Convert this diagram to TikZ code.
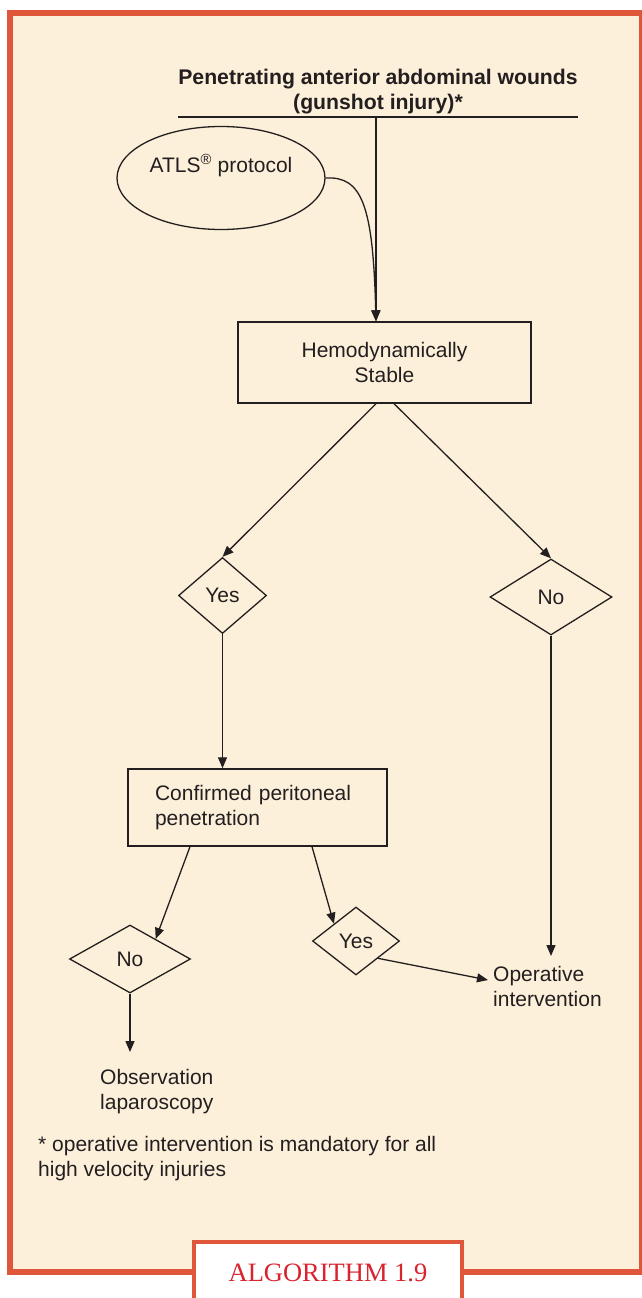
\documentclass[tikz,border=0pt]{standalone}
\usepackage{fontspec}
\setmainfont{Liberation Sans}
\newfontfamily\tagfont{Liberation Serif}
\usetikzlibrary{shapes.geometric,arrows.meta,calc}
\definecolor{framered}{HTML}{E0563A}
\definecolor{paper}{HTML}{FDF0DA}
\definecolor{ink}{HTML}{231F20}
\definecolor{tagred}{HTML}{D9232D}
\begin{document}
\begin{tikzpicture}[
  x=1pt, y=-1pt,
  font=\fontsize{21}{25}\selectfont,
  text=ink,
  stepbox/.style={draw=ink, line width=1.4pt, inner sep=0pt},
  choice/.style={draw=ink, diamond, line width=1.3pt, inner sep=0pt},
  plain/.style={align=left, anchor=north west, inner sep=0pt},
  flow/.style={draw=ink, line width=1.3pt, -{Triangle[length=11pt,width=9pt]}}
]
% page, panel and frame
\fill[white] (0,0) rectangle (642,1298);
\useasboundingbox (0,0) rectangle (642,1298);
\fill[paper] (10,13) rectangle (642,1271.5);
\draw[framered, line width=6pt] (10,13) rectangle (642,1271.5);

% caption tab
\node[draw=framered, fill=white, line width=4pt, anchor=north, outer sep=0pt,
      inner sep=0pt, minimum width=268pt, text height=39.5pt, text depth=30pt,
      font=\tagfont\fontsize{26.5}{30}\selectfont, text=tagred]
  (tag) at (328,1241.5) {ALGORITHM 1.9};

% heading with rule
\node[font=\bfseries\fontsize{21.2}{25}\selectfont, align=center, anchor=south, inner sep=0pt]
  (title) at (378,114) {Penetrating anterior abdominal wounds\\(gunshot injury)*};
\coordinate (ulL) at (178,117);
\coordinate (ulR) at (578,117);
\coordinate (ulM) at (376,117);
\draw[ink, line width=2.6pt] (ulL) -- (ulR);

% nodes
\node[draw=ink, ellipse, line width=1.3pt, minimum width=208pt, minimum height=103pt,
      inner sep=0pt, text height=16pt, text depth=28pt]
  (atls) at (221,178) {ATLS\textsuperscript{®} protocol};
\node[stepbox, minimum width=293pt, minimum height=81pt, align=center]
  (hemo) at (384.5,362.5) {Hemodynamically\\Stable};
\node[choice, minimum width=88pt, minimum height=76pt] (yes1) at (222.5,595.5) {Yes};
\node[choice, minimum width=122pt, minimum height=76pt] (no1) at (551,597) {No};
\node[stepbox, minimum width=259pt, minimum height=77pt, align=left, text width=205pt]
  (conf) at (257.5,807.5) {Confirmed peritoneal\\penetration};
\node[choice, minimum width=121pt, minimum height=68pt] (no2) at (130,959) {No};
\node[choice, minimum width=87pt, minimum height=68pt] (yes2) at (356,941) {Yes};
\node[plain] (op) at (493,966.5) {Operative\\intervention};
\node[plain] (obs) at (100,1069.5) {Observation\\laparoscopy};
\node[plain] (note) at (38,1136.5) {* operative intervention is mandatory for all\\high velocity injuries};

\coordinate (opTop) at (551,956);
\coordinate (opSide) at (488,980);
\coordinate (obsTop) at (130,1052);

% connectors
\draw[flow] (ulM) -- (ulM |- hemo.north);
\draw[flow] (atls.east) .. controls (362,176) and (373,205) .. (ulM |- hemo.north);
\draw[flow] ([xshift=-8.5pt]hemo.south) -- (yes1.north);
\draw[flow] ([xshift=9.5pt]hemo.south) -- (no1.north);
\draw[flow] (yes1.south) -- (yes1.south |- conf.north);
\draw[flow] (no1.south) -- (opTop);
\draw[flow] ([xshift=-67.5pt]conf.south) -- ($(no2.north)!0.42!(no2.east)$);
\draw[flow] ([xshift=54.5pt]conf.south) -- (yes2.north west);
\draw[flow] (yes2.south east) -- (opSide);
\draw[flow] (no2.south) -- (obsTop);
\end{tikzpicture}
\end{document}
